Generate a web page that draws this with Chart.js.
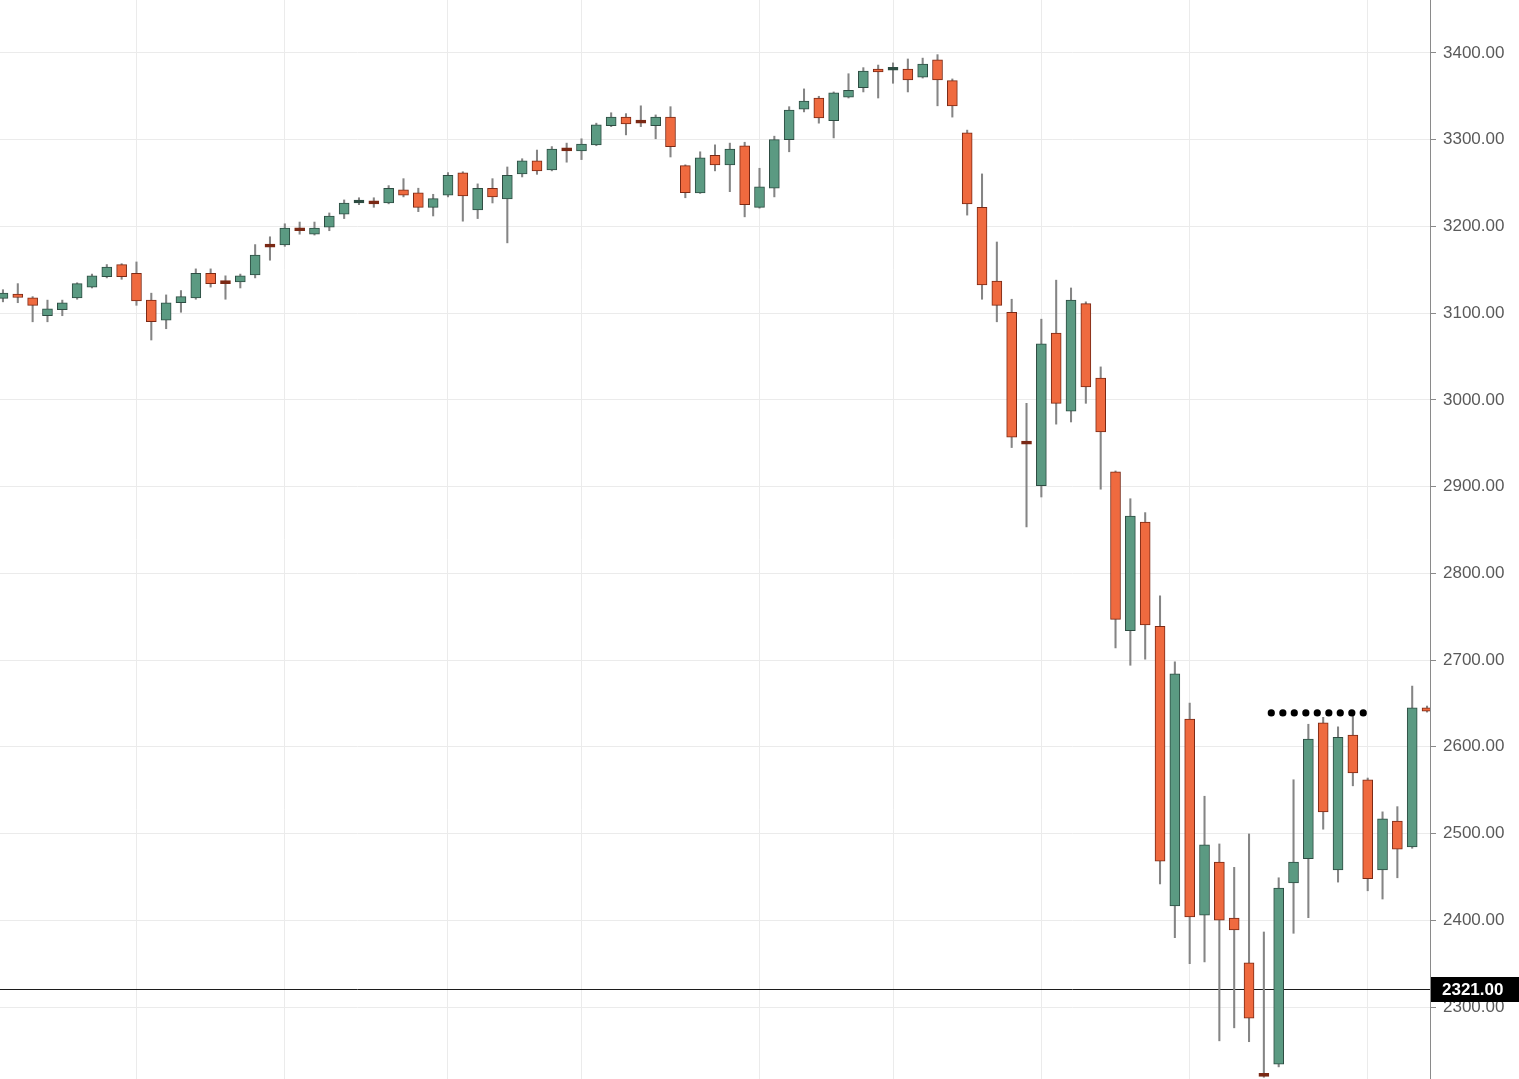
<!DOCTYPE html>
<html>
<head>
<meta charset="utf-8">
<title>Candles</title>
<script src="https://cdn.jsdelivr.net/npm/chart.js@4.4.1/dist/chart.umd.min.js"></script>
<style>
  html, body { margin: 0; padding: 0; background: #fff; }
  #wrap { width: 1519px; height: 1079px; }
</style>
</head>
<body>
<div id="wrap"><canvas id="candles"></canvas></div>
<script>
// daily candles (index = trading day)
var opens = [3117, 3122, 3117.5, 3097, 3104, 3117.5, 3130, 3142, 3156, 3146,
  3115, 3092, 3112, 3117.5, 3146, 3136, 3136, 3144, 3177.5, 3178.6,
  3197, 3191, 3199, 3214, 3227, 3228, 3227, 3242, 3238.6, 3222,
  3236, 3261.6, 3219, 3244, 3231.7, 3260.5, 3275.5, 3265, 3289, 3287,
  3294, 3316, 3326, 3320.5, 3316, 3326, 3270, 3238.6, 3282, 3271,
  3293, 3222, 3244, 3300, 3335, 3348, 3322, 3349, 3360, 3381.5,
  3380, 3381.5, 3372, 3392, 3368, 3308, 3222, 3137, 3101, 2950.5,
  2901, 3077, 2987, 3111, 3025, 2917, 2734, 2859, 2739, 2416.5,
  2632, 2406, 2467, 2402.6, 2351, 2222, 2234, 2443, 2471, 2627.5,
  2458, 2613.6, 2562, 2458, 2514.5, 2484.5, 2645];
var highs = [3127, 3134, 3119, 3115, 3115, 3135, 3145, 3156, 3157, 3159,
  3123, 3121, 3126, 3151, 3151, 3143, 3145, 3179, 3188, 3203,
  3205, 3205, 3215.5, 3230.5, 3233, 3233, 3247, 3255, 3244, 3237,
  3262, 3263, 3249, 3255, 3268.5, 3278, 3288, 3292, 3296, 3301,
  3319, 3331, 3330, 3339, 3328.5, 3338, 3271, 3286, 3294, 3296,
  3297, 3267, 3304, 3338, 3358.5, 3350, 3355, 3376, 3383, 3386,
  3388.5, 3393, 3394, 3398, 3370, 3311, 3260.5, 3182, 3116, 2996,
  3093, 3138, 3129, 3113, 3038, 2918, 2886, 2870, 2774, 2698,
  2650.5, 2543, 2488, 2461, 2499.5, 2386.5, 2449, 2562, 2626, 2634,
  2623, 2637, 2564, 2525, 2531, 2670, 2647];
var lows = [3113, 3112, 3090, 3090, 3097, 3116, 3129, 3140.6, 3139, 3109,
  3069, 3082, 3101, 3116, 3130, 3116, 3129, 3140.6, 3161, 3177,
  3191, 3190, 3195, 3209, 3225, 3222, 3226, 3234, 3217, 3212,
  3234, 3206, 3209, 3227, 3181, 3257, 3260, 3264, 3274, 3277,
  3293, 3315, 3305.5, 3315, 3301, 3280, 3233, 3238, 3264, 3240,
  3211, 3221, 3234, 3286, 3332, 3319, 3302, 3348, 3355, 3348,
  3365, 3355, 3371, 3339, 3326, 3213, 3116, 3090, 2945, 2853.5,
  2888, 2972, 2974.5, 2996, 2897, 2714, 2694, 2701, 2442, 2380,
  2350, 2352, 2261, 2276, 2260, 2219, 2231, 2385, 2403, 2505,
  2444, 2555, 2434, 2424.5, 2449, 2483, 2640];
var closes = [3123, 3118, 3109, 3105, 3112, 3134, 3143, 3153, 3142, 3114,
  3090, 3112, 3119, 3146, 3134, 3134, 3143, 3167, 3176, 3198,
  3195, 3198, 3212, 3227, 3228.5, 3226, 3244, 3236, 3222, 3232,
  3259, 3235, 3244, 3234, 3259, 3275.5, 3264, 3289, 3287, 3295,
  3317, 3326, 3318, 3319, 3326, 3292, 3239, 3279, 3271, 3289,
  3225, 3245.5, 3300, 3334, 3344.6, 3325, 3354, 3357, 3379, 3378,
  3381.5, 3369, 3387, 3369, 3339, 3226, 3132.5, 3109, 2957, 2949,
  3064.5, 2996, 3115, 3015, 2963, 2747, 2866, 2740.5, 2468, 2684,
  2404, 2487, 2400, 2389, 2287, 2220, 2437, 2467, 2609, 2525,
  2611, 2570, 2448, 2517, 2482, 2645, 2641];

var monthStarts = [9, 19, 30, 39, 51, 60, 70, 80, 92];
var priceTicks = [2300, 2400, 2500, 2600, 2700, 2800, 2900, 3000, 3100, 3200, 3300, 3400];
var lastPrice = 2321;
// dotted resistance drawn by hand on the original
var resistanceLevel = 2639;
var resistanceDots = [85.5, 86.28, 87.05, 87.83, 88.6, 89.38, 90.15, 90.93, 91.7];

var UP = '#5b9a82', UP_EDGE = '#2d4c42';
var DOWN = '#ef6a3f', DOWN_EDGE = '#7a2915';

var bodies = [], wicks = [], fills = [], edges = [];
for (var i = 0; i < opens.length; i++) {
  bodies.push({ x: i, y: [opens[i], closes[i]] });
  wicks.push({ x: i, y: [lows[i], highs[i]] });
  var up = closes[i] >= opens[i];
  var edge = up ? UP_EDGE : DOWN_EDGE;
  // near-doji bodies read as a dark dash
  var doji = Math.abs(closes[i] - opens[i]) < 2.5;
  fills.push(doji ? edge : (up ? UP : DOWN));
  edges.push(edge);
}
var dots = resistanceDots.map(function(x) { return { x: x, y: resistanceLevel }; });

function noPadding(s) {
  s.paddingTop = 0; s.paddingBottom = 0; s.paddingLeft = 0; s.paddingRight = 0;
}

// last price line behind the candles, its label box over the axis
var priceLine = {
  id: 'priceLine',
  beforeDatasetsDraw: function(chart) {
    var ctx = chart.ctx;
    var y = Math.round(chart.scales.y.getPixelForValue(lastPrice)) + 0.5;
    ctx.save();
    ctx.strokeStyle = '#1c1c1c';
    ctx.lineWidth = 1;
    ctx.beginPath();
    ctx.moveTo(0, y);
    ctx.lineTo(chart.chartArea.right, y);
    ctx.stroke();
    ctx.restore();
  },
  afterDraw: function(chart) {
    var ctx = chart.ctx;
    var area = chart.chartArea;
    var y = Math.round(chart.scales.y.getPixelForValue(lastPrice));
    ctx.save();
    ctx.fillStyle = '#000';
    ctx.fillRect(area.right + 1, y - 12, chart.width - area.right, 25);
    ctx.fillStyle = '#fff';
    ctx.font = 'bold 17px "Liberation Sans", Arial, sans-serif';
    ctx.textBaseline = 'middle';
    ctx.fillText(lastPrice.toFixed(2), area.right + 12, y + 1);
    ctx.restore();
  }
};

new Chart(document.getElementById('candles'), {
  type: 'bar',
  data: {
    datasets: [{
      type: 'line',
      data: dots,
      showLine: false,
      pointRadius: 3.6,
      pointBackgroundColor: '#000',
      pointBorderWidth: 0,
      order: 0
    }, {
      data: bodies,
      backgroundColor: fills,
      borderColor: edges,
      borderWidth: 1,
      borderSkipped: false,
      barThickness: 10,
      minBarLength: 3,
      grouped: false,
      order: 1
    }, {
      data: wicks,
      backgroundColor: '#858585',
      borderWidth: 0,
      barThickness: 1.4,
      grouped: false,
      order: 2
    }]
  },
  options: {
    responsive: true,
    maintainAspectRatio: false,
    animation: false,
    events: [],
    layout: { padding: 0, autoPadding: false },
    plugins: { legend: { display: false }, tooltip: { enabled: false } },
    scales: {
      x: {
        type: 'linear',
        offset: false,
        bounds: 'ticks',
        min: -0.2,
        max: 96.2,
        afterBuildTicks: function(s) { s.ticks = monthStarts.map(function(v) { return { value: v }; }); },
        afterFit: function(s) { s.height = 0; noPadding(s); },
        ticks: { display: false },
        border: { display: false },
        grid: { color: '#ebebeb', drawTicks: false, offset: false }
      },
      y: {
        position: 'right',
        min: 2217,
        max: 3461,
        afterBuildTicks: function(s) { s.ticks = priceTicks.map(function(v) { return { value: v }; }); },
        afterFit: function(s) { s.width = 89; noPadding(s); },
        ticks: {
          color: '#5a5a5a',
          padding: 7,
          font: { family: '"Liberation Sans", Arial, sans-serif', size: 17 },
          callback: function(v) { return Number(v).toFixed(2); }
        },
        border: { display: true, color: '#8a8a8a', width: 1 },
        grid: { color: '#ebebeb', tickColor: '#8a8a8a', tickLength: 6 }
      }
    }
  },
  plugins: [priceLine]
});
</script>
</body>
</html>
